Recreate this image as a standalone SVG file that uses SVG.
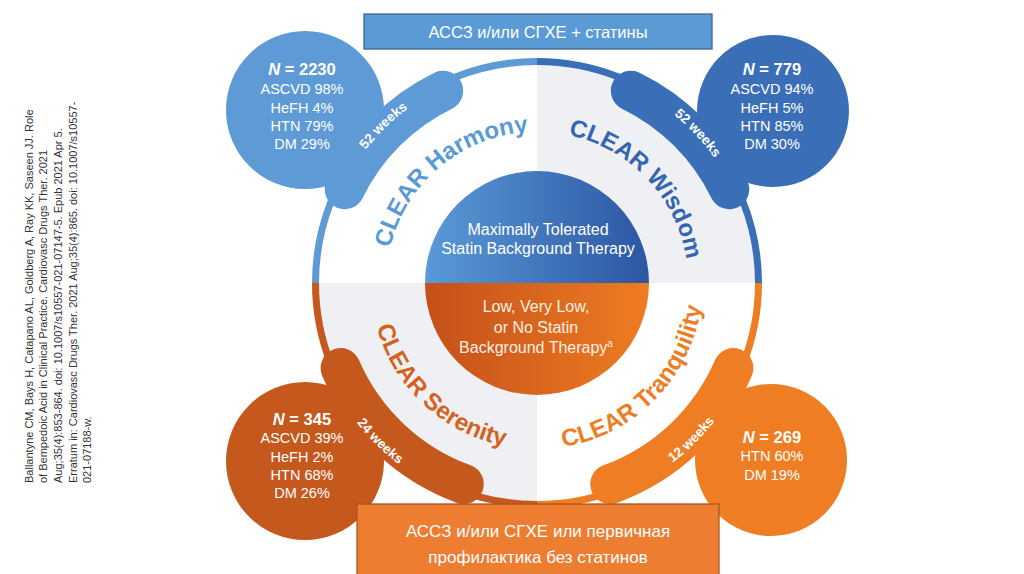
<svg xmlns="http://www.w3.org/2000/svg" width="1024" height="574" viewBox="0 0 1024 574">
<defs>
<style>
.sans{font-family:"Liberation Sans",Arial,sans-serif}
.stat{font-family:"Liberation Sans",Arial,sans-serif;font-size:14.5px;fill:#fff;text-anchor:middle}
.nn{font-weight:bold;font-size:16.5px}
.arc{font-family:"Liberation Sans",Arial,sans-serif;font-weight:bold;font-size:24px}
.wk{font-family:"Liberation Sans",Arial,sans-serif;font-weight:bold;font-size:13.5px;fill:#fff}
.ring{fill:none;stroke-width:7}
.arm{fill:none;stroke-width:40;stroke-linecap:round}
.mid{font-family:"Liberation Sans",Arial,sans-serif;font-size:16px;text-anchor:middle}
.box{font-family:"Liberation Sans",Arial,sans-serif;fill:#fff;text-anchor:middle}
</style>
<linearGradient id="gBlue" x1="0" y1="0" x2="1" y2="0">
<stop offset="0" stop-color="#5a9ad8"/><stop offset="1" stop-color="#2c56a2"/>
</linearGradient>
<linearGradient id="gOrange" x1="0" y1="0" x2="1" y2="0">
<stop offset="0" stop-color="#c4501a"/><stop offset="1" stop-color="#ef7c22"/>
</linearGradient>
<path id="pHar" d="M413.3,369.6 A151,151 0 0 1 643.8,176.2"/>
<path id="pWis" d="M443.0,164.8 A151,151 0 0 1 650.1,383.1"/>
<path id="pSer" d="M406.2,180.8 A166,166 0 0 0 648.1,406.4"/>
<path id="pTra" d="M431.4,411.1 A166,166 0 0 0 663.2,175.2"/>
<path id="wTL" d="M326.7,336.6 A217,217 0 0 1 595.7,74.1"/>
<path id="wTR" d="M488.2,71.6 A217,217 0 0 1 744.5,346.5"/>
<path id="wBL" d="M316.6,224.8 A228,228 0 0 0 596.8,503.0"/>
<path id="wBR" d="M477.2,499.9 A225,225 0 0 0 754.7,226.3"/>
</defs>
<rect width="1024" height="574" fill="#fff"/>

<g id="citation">
<text class="sans" transform="rotate(-90)" font-size="11" fill="#333">
<tspan x="-483" y="32.5">Ballantyne CM, Bays H, Catapano AL, Goldberg A, Ray KK, Saseen JJ. Role</tspan>
<tspan x="-483" dy="14.7">of Bempedoic Acid in Clinical Practice. Cardiovasc Drugs Ther. 2021</tspan>
<tspan x="-483" dy="14.7">Aug;35(4):853-864. doi: 10.1007/s10557-021-07147-5. Epub 2021 Apr 5.</tspan>
<tspan x="-483" dy="14.7">Erratum in: Cardiovasc Drugs Ther. 2021 Aug;35(4):865. doi: 10.1007/s10557-</tspan>
<tspan x="-483" dy="14.7">021-07188-w.</tspan>
</text>
</g>

<g id="disk">
<circle cx="537" cy="283" r="219" fill="#fff"/>
<path d="M537,283 L537,64 A219,219 0 0 1 756,283 Z" fill="#eff0f4"/>
<path d="M537,283 L537,502 A219,219 0 0 1 318,283 Z" fill="#eff0f4"/>
</g>

<g id="connectors">
<path class="ring" stroke="#5e9ad6" d="M315.5,283 A221.5,221.5 0 0 1 537,61.5"/>
<path class="ring" stroke="#3a6fb7" d="M537,61.5 A221.5,221.5 0 0 1 758.5,283"/>
<path class="ring" stroke="#ee7d23" d="M758.5,283 A221.5,221.5 0 0 1 537,504.5"/>
<path class="ring" stroke="#c5581c" d="M537,504.5 A221.5,221.5 0 0 1 315.5,283"/>
<path class="arm" stroke="#5e9ad6" d="M344.7,189.2 A214,214 0 0 1 443.2,90.7"/>
<path class="arm" stroke="#3a6fb7" d="M630.8,90.7 A214,214 0 0 1 729.3,189.2"/>
<path class="arm" stroke="#c5581c" d="M340.6,368.0 A214,214 0 0 0 463.8,484.1"/>
<path class="arm" stroke="#ee7d23" d="M733.4,368.0 A214,214 0 0 1 610.2,484.1"/>
</g>

<g id="harmony">
<circle cx="305" cy="110" r="79" fill="#5e9ad6"/>
<text class="stat"><tspan class="nn" x="302" y="75"><tspan font-style="italic">N</tspan> = 2230</tspan><tspan x="302" y="94">ASCVD 98%</tspan><tspan x="302" y="113">HeFH 4%</tspan><tspan x="302" y="131">HTN 79%</tspan><tspan x="302" y="149">DM 29%</tspan></text>
<text class="wk"><textPath href="#wTL" startOffset="50%" text-anchor="middle">52 weeks</textPath></text>
<text class="arc" fill="#5b9bd5"><textPath href="#pHar" startOffset="50%" text-anchor="middle">CLEAR Harmony</textPath></text>
</g>

<g id="wisdom">
<circle cx="773" cy="111" r="76" fill="#3a6fb7"/>
<text class="stat"><tspan class="nn" x="772" y="75"><tspan font-style="italic">N</tspan> = 779</tspan><tspan x="772" y="94">ASCVD 94%</tspan><tspan x="772" y="113">HeFH 5%</tspan><tspan x="772" y="131">HTN 85%</tspan><tspan x="772" y="149">DM 30%</tspan></text>
<text class="wk"><textPath href="#wTR" startOffset="50%" text-anchor="middle">52 weeks</textPath></text>
<text class="arc" fill="#3466b0"><textPath href="#pWis" startOffset="50%" text-anchor="middle">CLEAR Wisdom</textPath></text>
</g>

<g id="serenity">
<circle cx="305" cy="461" r="79" fill="#c5581c"/>
<text class="stat"><tspan class="nn" x="302" y="425"><tspan font-style="italic">N</tspan> = 345</tspan><tspan x="302" y="443">ASCVD 39%</tspan><tspan x="302" y="462">HeFH 2%</tspan><tspan x="302" y="480">HTN 68%</tspan><tspan x="302" y="498">DM 26%</tspan></text>
<text class="wk"><textPath href="#wBL" startOffset="50%" text-anchor="middle">24 weeks</textPath></text>
<text class="arc" fill="#d4611d"><textPath href="#pSer" startOffset="50%" text-anchor="middle">CLEAR Serenity</textPath></text>
</g>

<g id="tranquility">
<circle cx="771" cy="460" r="76" fill="#ee7d23"/>
<text class="stat"><tspan class="nn" x="772" y="443"><tspan font-style="italic">N</tspan> = 269</tspan><tspan x="772" y="461">HTN 60%</tspan><tspan x="772" y="480">DM 19%</tspan></text>
<text class="wk"><textPath href="#wBR" startOffset="50%" text-anchor="middle">12 weeks</textPath></text>
<text class="arc" fill="#ee7d23"><textPath href="#pTra" startOffset="50%" text-anchor="middle">CLEAR Tranquility</textPath></text>
</g>

<g id="center">
<path d="M425,283 A112,112 0 0 1 649,283 Z" fill="url(#gBlue)"/>
<path d="M425,283 A112,112 0 0 0 649,283 Z" fill="url(#gOrange)"/>
<text class="mid" fill="#fff"><tspan x="538" y="235">Maximally Tolerated</tspan><tspan x="538" y="254">Statin Background Therapy</tspan></text>
<text class="mid" fill="#fdf0e2"><tspan x="536" y="312">Low, Very Low,</tspan><tspan x="536" y="333">or No Statin</tspan><tspan x="536" y="353">Background Therapy<tspan font-size="10" dy="-6">a</tspan></tspan></text>
</g>

<g id="box-top">
<rect x="364" y="14" width="348" height="35" fill="#5b9bd5" stroke="#3d6590" stroke-width="1.3"/>
<text class="box" x="538" y="38" font-size="16.5">АССЗ и/или СГХЕ + статины</text>
</g>

<g id="box-bottom">
<rect x="357" y="504" width="362" height="80" fill="#ed7d31" stroke="#a9581f" stroke-width="1.3"/>
<text class="box" font-size="17"><tspan x="538" y="537">АССЗ и/или СГХЕ или первичная</tspan><tspan x="538" y="563">профилактика без статинов</tspan></text>
</g>
</svg>
